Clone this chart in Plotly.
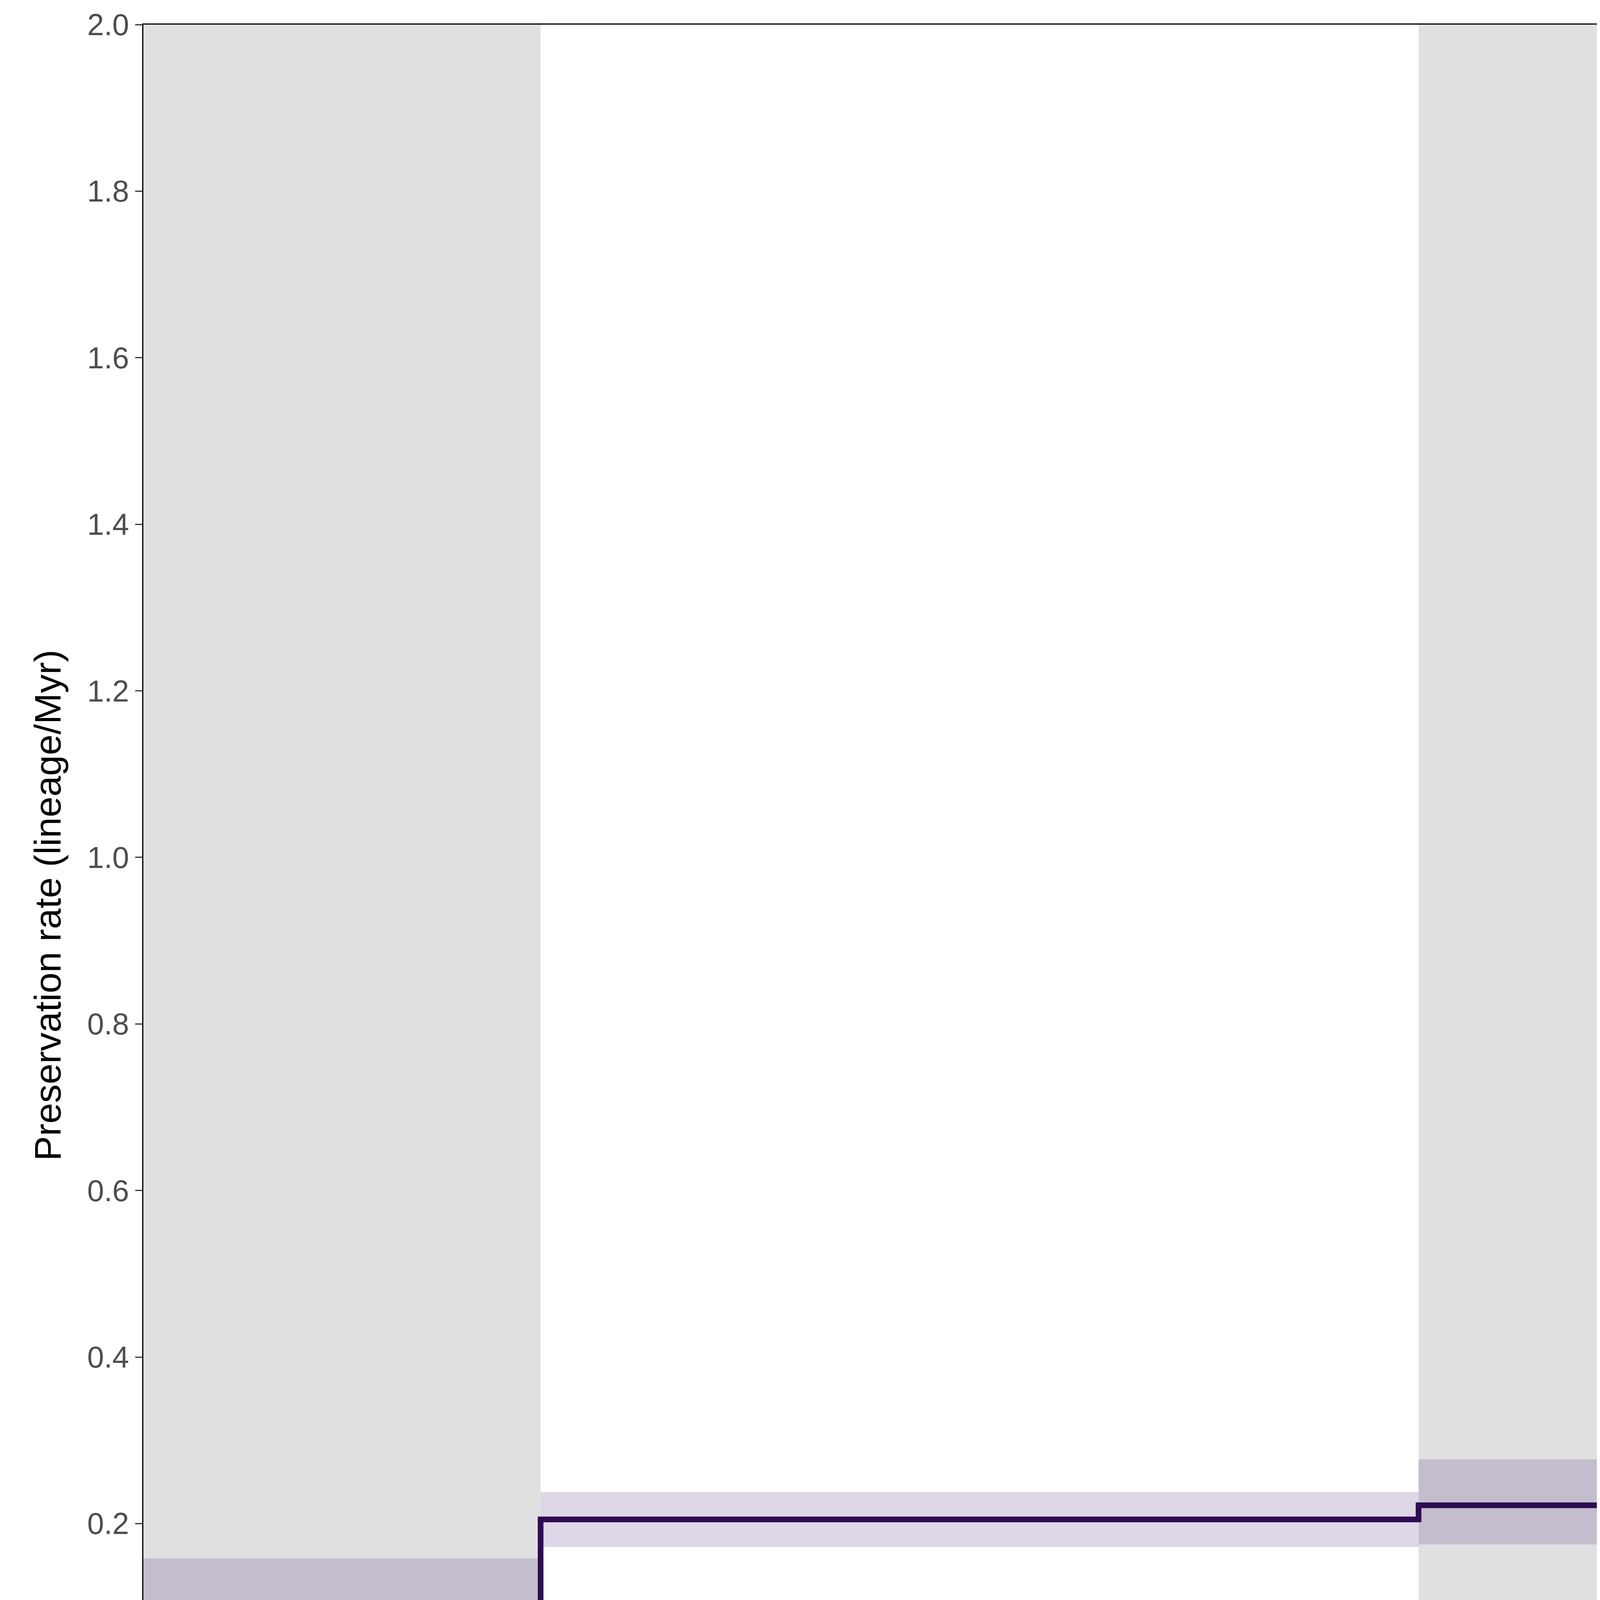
import plotly.graph_objects as go

# epoch boundaries (Ma), oldest first
bounds = [66.0, 56.0, 33.9, 23.03, 5.33, 2.58, 0.0]
epochs = ["Palaeocene", "Eocene", "Oligocene", "Miocene", "Pli", "Ple"]
epoch_cols = ["#fda767", "#fdb46c", "#fdc07a", "#ffff00", "#ffff99", "#fff2ae"]
rate = [0.088, 0.205, 0.222, 0.320, 0.848, 1.678]
rate_lo = [0.025, 0.172, 0.175, 0.280, 0.712, 1.500]
rate_hi = [0.158, 0.238, 0.277, 0.365, 0.980, 1.848]
tick_vals = [66.0, 56.0, 33.9, 27.82, 23.03, 15.97, 5.33, 2.58]

S = 4.54
ybot = -0.115

fig = go.Figure()
shapes = []
annos = []
for i, name in enumerate(epochs):
    x0, x1 = bounds[i], bounds[i + 1]
    if i % 2 == 0 and i < 5:
        shapes.append(dict(type="rect", xref="x", yref="y", x0=x0, x1=x1, y0=0, y1=2.0,
                           fillcolor="#e0e0e0", line_width=0, layer="below"))
    shapes.append(dict(type="rect", xref="x", yref="y", x0=x0, x1=x1, y0=ybot, y1=0,
                       fillcolor=epoch_cols[i], line=dict(color="black", width=0.6 * S), layer="above"))
    annos.append(dict(x=(x0 + x1) / 2, y=ybot / 2, xref="x", yref="y", text=name, showarrow=False,
                      font=dict(size=17 * S, color="black")))
    fig.add_trace(go.Scatter(x=[x0, x1, x1, x0, x0], y=[rate_lo[i], rate_lo[i], rate_hi[i], rate_hi[i], rate_lo[i]],
                             fill="toself", fillcolor="rgba(60,20,110,0.17)", line_width=0,
                             mode="lines", hoverinfo="skip", showlegend=False))

fig.add_trace(go.Scatter(x=bounds, y=rate + [rate[-1]], mode="lines", line_shape="hv",
                         line=dict(color="#2e0b52", width=3.2 * S), showlegend=False))

fig.update_layout(
    width=7086, height=4724, plot_bgcolor="white", paper_bgcolor="white",
    margin=dict(l=359, r=14, t=45, b=160),
    shapes=shapes, annotations=annos, font=dict(family="Liberation Sans", color="#4d4d4d"),
)
fig.update_xaxes(range=[66, 0], tickvals=tick_vals, tickformat=".2f", showgrid=False, zeroline=False,
                 showline=True, linecolor="black", linewidth=0.6 * S, mirror=True,
                 ticks="outside", ticklen=4 * S, tickwidth=0.6 * S, tickcolor="#333",
                 tickfont=dict(size=17 * S, color="#4d4d4d"))
fig.update_yaxes(range=[ybot, 2.0], tickvals=[0, 0.2, 0.4, 0.6, 0.8, 1.0, 1.2, 1.4, 1.6, 1.8, 2.0],
                 tickformat=".1f", showgrid=False, zeroline=False,
                 showline=True, linecolor="black", linewidth=0.6 * S, mirror=True,
                 ticks="outside", ticklen=4 * S, tickwidth=0.6 * S, tickcolor="#333",
                 tickfont=dict(size=17 * S, color="#4d4d4d"),
                 title=dict(text="Preservation rate (lineage/Myr)", font=dict(size=21 * S, color="black"), standoff=8 * S))
fig.write_html("out.html")
